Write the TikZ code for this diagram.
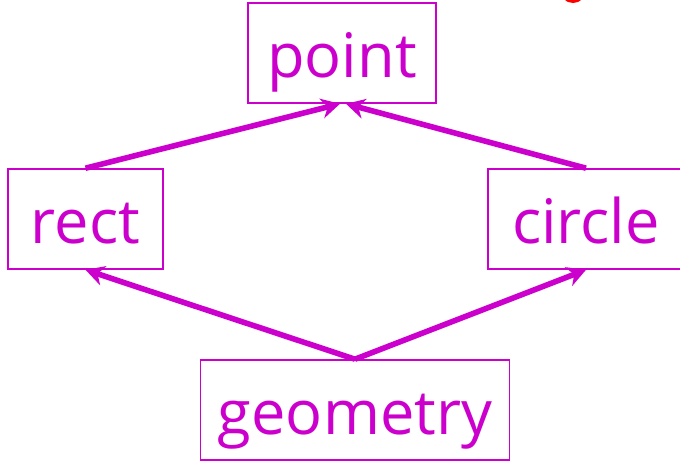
\documentclass[tikz,border=0pt]{standalone}
\usepackage{fontspec}
\setmainfont{Open Sans}
\usepackage{xcolor}
\usetikzlibrary{arrows.meta,positioning}
\definecolor{mag}{HTML}{CC00CC}
\tikzset{
  classbox/.style={rectangle, draw=mag, line width=1.2pt, text=mag,
    minimum height=75pt, font=\fontsize{46}{52}\selectfont, inner sep=0pt,
    text height=36pt, text depth=0pt},
  arr/.style={-{Stealth[length=14pt,width=15pt]}, line width=4.2pt, draw=mag},
}
\begin{document}
\begin{tikzpicture}[x=0.75pt,y=-0.75pt]
  \useasboundingbox (0,0) rectangle (680,461);
  % classes
  \node[classbox,minimum width=141pt] (point) at (342,53) {point};
  \node[classbox,minimum width=116pt] (rect) at (85.5,219) {rect};
  \node[classbox,minimum width=147pt] (circle) at (586,219) {circle};
  \node[classbox,minimum width=232pt] (geometry) at (355,410) {geometry};
  % inheritance
  \draw[arr] (rect.north) -- ([xshift=-1.5pt]point.south);
  \draw[arr] (circle.north) -- ([xshift=3pt]point.south);
  \draw[arr] (geometry.north) -- (rect.south);
  \draw[arr] (geometry.north) -- (circle.south);
  % red marker, cut by the top edge
  \fill[red] (573,-10) circle (13);
\end{tikzpicture}
\end{document}
